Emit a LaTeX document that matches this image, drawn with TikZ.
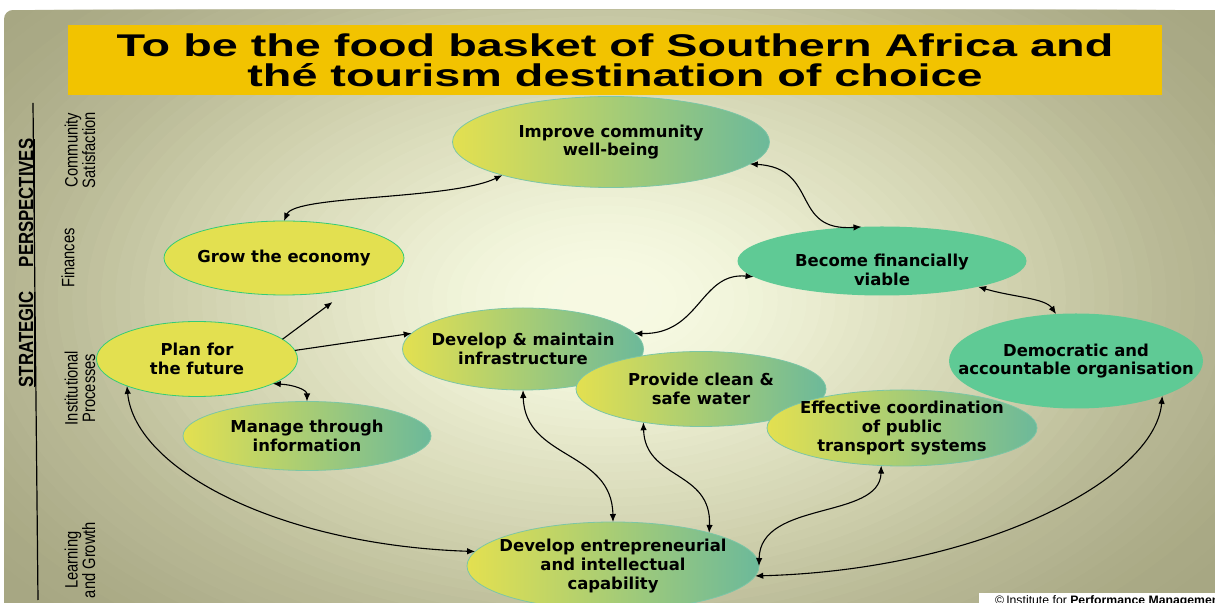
\documentclass[tikz,border=0pt]{standalone}
\usepackage{fontspec}
\setmainfont{DejaVu Sans}
\newfontfamily\slidefont{Liberation Sans}
\usetikzlibrary{shapes.geometric,arrows.meta}
\definecolor{titleyellow}{HTML}{F2C300}
\definecolor{bubbleyellow}{HTML}{E3E050}
\definecolor{bubbleteal}{HTML}{6CB99A}
\definecolor{bubblegreen}{HTML}{5FCA95}
\definecolor{rimgreen}{HTML}{33CC77}
\definecolor{rimteal}{HTML}{7CC6A6}
\newcommand{\narrow}[1]{\scalebox{0.82}[1]{#1}}
\newcommand{\widen}[1]{\scalebox{1.49}[1]{#1}}
\begin{document}
\begin{tikzpicture}[>={Latex[length=8bp,width=6.5bp]},line join=bevel,
  bubble/.style={ellipse,inner sep=0pt,outer sep=0pt,line width=0.8bp},
  fadebubble/.style={bubble,draw=rimteal,left color=bubbleyellow,right color=bubbleteal},
  yellowbubble/.style={bubble,draw=rimgreen,fill=bubbleyellow},
  greenbubble/.style={bubble,fill=bubblegreen},
  bubbletext/.style={font=\bfseries\fontsize{16.5}{19}\selectfont,align=center,text=black},
  perspective/.style={rotate=90,align=center,inner sep=0pt,font=\slidefont\fontsize{18}{17.5}\selectfont},
  link/.style={black,line width=1.1bp},]
\useasboundingbox (0bp,0bp) rectangle (1215bp,603bp);
%% slide background, lighter towards the middle
\begin{scope}
  \clip (4bp,0bp) -- (4bp,584bp) arc [start angle=180,end angle=90,radius=9bp] -- (1215bp,593bp) -- (1215bp,0bp) -- cycle;
  \fill [fill={rgb,255:red,167;green,167;blue,131}] (4bp,0bp) rectangle (1215bp,593bp);
  \foreach \r/\c/\d in {52/A8A884/A9A985,50/A9A985/ACAC88,48/ACAC88/AFAF8B,46/AFAF8B/B2B28F,44/B2B28F/B5B592,42/B5B592/B8B895,40/B8B895/BCBD99,38/BCBD99/C1C19E,36/C1C19E/C5C6A3,34/C5C6A3/CACBA8,32/CACBA8/CECFAC,30/CECFAC/D2D3B1,28/D2D3B1/D6D7B6,26/D6D7B6/D9DBBA,24/D9DBBA/DDDFBF,22/DDDFBF/E0E2C3,20/E0E2C3/E4E6C8,18/E4E6C8/E8EACD,16/E8EACD/EBEED2,14/EBEED2/EEF1D6,12/EEF1D6/F1F4DA,10/F1F4DA/F3F6DD,8/F3F6DD/F5F8E0,6/F5F8E0/F6F9E2,4/F6F9E2/F7FAE3}{
    \definecolor{ringouter}{HTML}{\c}
    \definecolor{ringinner}{HTML}{\d}
    \fill [ringouter] (605bp,303bp) ellipse [x radius={\r*14.4bp},y radius={\r*8.6bp}];
    \fill [ringouter!50!ringinner] (605bp,303bp) ellipse [x radius={(\r-1)*14.4bp},y radius={(\r-1)*8.6bp}];
  }
\end{scope}
%%
\node (node_vision) at (615bp,543bp) [fill=titleyellow,minimum width=1094bp,minimum height=70bp,inner sep=0pt,align=center,font=\slidefont\bfseries\fontsize{31.5}{30}\selectfont] {\widen{To be the food basket of Southern Africa and}\\\widen{thé tourism destination of choice}};
%% perspectives
\coordinate (axis_top) at (33bp,500bp);
  \coordinate (axis_bottom) at (38bp,3bp);
  \draw [black,line width=1.2bp] (axis_top) -- (axis_bottom);
  \node (label_strategic) at (27bp,340bp) [rotate=90,inner sep=0pt,font=\slidefont\bfseries\fontsize{20.5}{20}\selectfont] {\narrow{\underline{STRATEGIC}\hspace{30bp}\underline{PERSPECTIVES}}};
  \node (label_community) at (80bp,453bp) [perspective] {\narrow{Community}\\\narrow{Satisfaction}};
  \node (label_finances) at (68bp,345bp) [perspective] {\narrow{Finances}};
  \node (label_processes) at (80bp,215bp) [perspective] {\narrow{Institutional}\\\narrow{Processes}};
  \node (label_learning) at (80bp,43bp) [perspective] {\narrow{Learning}\\\narrow{and Growth}};
%% objectives
\node (node_improve) at (611bp,461bp) [fadebubble,minimum width=317bp,minimum height=91bp,label={[bubbletext]center:Improve community\\well-being}] {};
  \node (node_grow) at (284bp,345bp) [yellowbubble,minimum width=240bp,minimum height=74bp,label={[bubbletext]center:Grow the economy}] {};
  \node (node_viable) at (882bp,342bp) [greenbubble,minimum width=289bp,minimum height=69bp,label={[bubbletext,yshift=-9bp]center:Become financially\\viable}] {};
  \node (node_democratic) at (1076bp,242bp) [greenbubble,minimum width=254bp,minimum height=95bp,label={[bubbletext]center:Democratic and\\accountable organisation}] {};
  \node (node_plan) at (197bp,244bp) [yellowbubble,minimum width=201bp,minimum height=75bp,label={[bubbletext]center:Plan for\\the future}] {};
  \node (node_manage) at (307bp,167bp) [fadebubble,minimum width=248bp,minimum height=69bp,label={[bubbletext]center:Manage through\\information}] {};
  \node (node_infra) at (523bp,254bp) [fadebubble,minimum width=241bp,minimum height=82bp,label={[bubbletext]center:Develop \& maintain\\infrastructure}] {};
  \node (node_water) at (701bp,214bp) [fadebubble,minimum width=250bp,minimum height=75bp,label={[bubbletext]center:Provide clean \&\\safe water}] {};
  \node (node_transport) at (902bp,175bp) [fadebubble,minimum width=270bp,minimum height=76bp,label={[bubbletext]center:Effective coordination\\of public\\transport systems}] {};
  \node (node_capability) at (613bp,37bp) [fadebubble,minimum width=292bp,minimum height=88bp,label={[bubbletext]center:Develop entrepreneurial\\and intellectual\\capability}] {};
%% links
\draw [link,<->] (node_grow.90) .. controls (295bp,408bp) and (450bp,403bp)  .. (node_improve.197);
  \draw [link,<->] (node_improve.351) .. controls (820bp,435bp) and (790bp,371bp)  .. (node_viable.121);
  \draw [link,<->] (node_viable.345) .. controls (1012bp,306bp) and (1045bp,305bp)  .. (node_democratic.113);
  \draw [link,<->] (node_viable.187) .. controls (700bp,331bp) and (700bp,268bp)  .. (node_infra.8);
  \draw [link,->,shorten >=22bp] (node_plan.13) -- (node_grow.335);
  \draw [link,->] (node_plan.5) -- (node_infra.172);
  \draw [link,<->] (node_plan.342) .. controls (295bp,218bp) and (307bp,213bp)  .. (node_manage.90);
  \draw [link,<->] (node_plan.201) .. controls (135bp,133bp) and (280bp,58bp)  .. (node_capability.174);
  \draw [link,<->] (node_infra.270) .. controls (525bp,143bp) and (612bp,153bp)  .. (node_capability.90);
  \draw [link,<->] (node_water.210) .. controls (645bp,123bp) and (712bp,133bp)  .. (node_capability.19);
  \draw [link,<->] (node_transport.241) .. controls (880bp,83bp) and (760bp,103bp)  .. (node_capability.0);
  \draw [link,<->] (node_democratic.338) .. controls (1155bp,123bp) and (980bp,33bp)  .. (node_capability.356);
%% credit
\fill [white] (979bp,0bp) rectangle (1215bp,10bp);
  \node (node_credit) at (995bp,-1bp) [anchor=base west,inner sep=0pt,font=\slidefont\fontsize{12.3}{12}\selectfont] {\textcopyright\,Institute for \textbf{Performance Management}};
%
\end{tikzpicture}
\end{document}
